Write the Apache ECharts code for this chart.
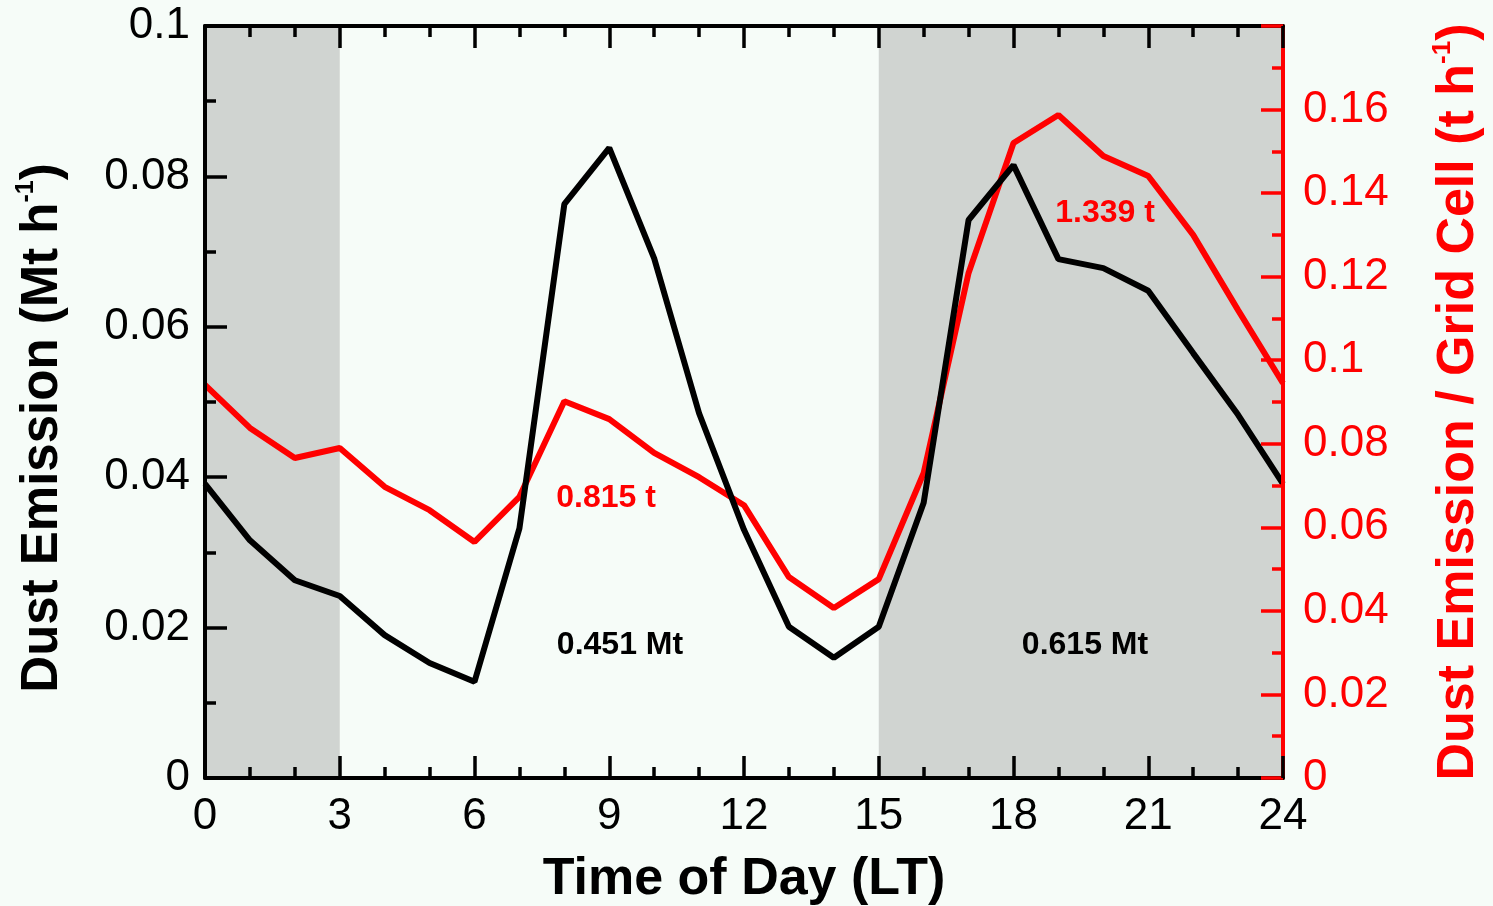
<!DOCTYPE html>
<html>
<head>
<meta charset="utf-8">
<script src="https://cdn.jsdelivr.net/npm/echarts@6/dist/echarts.min.js"></script>
<style>
  html, body { margin: 0; padding: 0; background: #f6fcf8; }
  #chart { width: 1493px; height: 906px; }
</style>
</head>
<body>
<div id="chart"></div>
<script>
// hours of day (LT)
const hours = [0, 1, 2, 3, 4, 5, 6, 7, 8, 9, 10, 11, 12, 13, 14, 15, 16, 17, 18, 19, 20, 21, 22, 23, 24]

// total dust emission (Mt h-1), left axis
const totalEmission = [0.0391, 0.0316, 0.0263, 0.0242, 0.0190, 0.0153, 0.0128, 0.0332, 0.0763, 0.0838,
  0.0691, 0.0485, 0.0330, 0.0201, 0.0160, 0.0201, 0.0366, 0.0742, 0.0815, 0.0690,
  0.0678, 0.0648, 0.0565, 0.0483, 0.0391]

// dust emission per grid cell (t h-1), right axis
const cellEmission = [0.0941, 0.0838, 0.0766, 0.0790, 0.0697, 0.0641, 0.0565, 0.0673, 0.0902, 0.0859,
  0.0778, 0.0720, 0.0653, 0.0481, 0.0407, 0.0476, 0.0730, 0.1209, 0.1520, 0.1587,
  0.1489, 0.1441, 0.1300, 0.1120, 0.0945]

// shaded periods (hours)
const shadedPeriods = [[0, 3], [15, 24]]

// annotations
const annotations = [
  { text: '0.451 Mt', color: '#000', x: 620, y: 645 },
  { text: '0.615 Mt', color: '#000', x: 1085, y: 645 },
  { text: '0.815 t', color: '#ff0000', x: 606, y: 498 },
  { text: '1.339 t', color: '#ff0000', x: 1105, y: 213 }
]

const chart = echarts.init(document.getElementById('chart'))

const font = 'Liberation Sans, Arial, Helvetica, sans-serif'
const RED = '#ff0000'

const xBase = {
  type: 'value',
  min: 0,
  max: 24,
  interval: 3,
  z: 10,
  axisLine: { show: true, onZero: false, lineStyle: { color: '#000', width: 4 } },
  axisTick: { show: true, inside: true, length: 22, lineStyle: { color: '#000', width: 3.5 } },
  minorTick: { show: true, splitNumber: 3, length: 11, lineStyle: { color: '#000', width: 3.5 } },
  splitLine: { show: false },
  minorSplitLine: { show: false }
}

const option = {
  backgroundColor: '#f6fcf8',
  animation: false,
  grid: { left: 205, right: 210, top: 26, bottom: 128, outerBoundsMode: 'none' },
  xAxis: [
    Object.assign({}, xBase, {
      position: 'bottom',
      name: 'Time of Day (LT)',
      nameLocation: 'middle',
      nameGap: 76,
      nameTextStyle: { fontFamily: font, fontSize: 52, fontWeight: 'bold', color: '#000' },
      axisLabel: { fontFamily: font, fontSize: 44, color: '#000', margin: 17 }
    }),
    Object.assign({}, xBase, {
      position: 'top',
      axisLabel: { show: false }
    })
  ],
  yAxis: [
    {
      type: 'value',
      position: 'left',
      min: 0,
      max: 0.1,
      interval: 0.02,
      z: 10,
      name: '{a|Dust Emission (Mt h}{s|-1}{a|)}',
      nameLocation: 'middle',
      nameRotate: 90,
      nameGap: 133,
      nameTextStyle: {
        padding: [0, 52, 0, 0],
        rich: {
          a: { fontFamily: font, fontSize: 51, fontWeight: 'bold', color: '#000', lineHeight: 58 },
          s: { fontFamily: font, fontSize: 25, fontWeight: 'bold', color: '#000', lineHeight: 58, verticalAlign: 'top', padding: [0, 0, 22, 0] }
        }
      },
      axisLine: { show: true, onZero: false, lineStyle: { color: '#000', width: 4 } },
      axisTick: { show: true, inside: true, length: 22, lineStyle: { color: '#000', width: 3.5 } },
      minorTick: { show: true, splitNumber: 2, length: 11, lineStyle: { color: '#000', width: 3.5 } },
      axisLabel: { fontFamily: font, fontSize: 44, color: '#000', margin: 15 },
      splitLine: { show: false }
    },
    {
      type: 'value',
      position: 'right',
      min: 0,
      max: 0.18,
      interval: 0.02,
      z: 10,
      name: '{a|Dust Emission / Grid Cell (t h}{s|-1}{a|)}',
      nameLocation: 'middle',
      nameRotate: 90,
      nameGap: 147,
      nameTextStyle: {
        rich: {
          a: { fontFamily: font, fontSize: 52, fontWeight: 'bold', color: RED, lineHeight: 58 },
          s: { fontFamily: font, fontSize: 26, fontWeight: 'bold', color: RED, lineHeight: 58, verticalAlign: 'top', padding: [0, 0, 22, 0] }
        }
      },
      axisLine: { show: true, onZero: false, lineStyle: { color: RED, width: 4 } },
      axisTick: { show: true, inside: true, length: 22, lineStyle: { color: RED, width: 3.5 } },
      minorTick: { show: true, splitNumber: 2, length: 11, lineStyle: { color: RED, width: 3.5 } },
      axisLabel: {
        fontFamily: font, fontSize: 44, color: RED, margin: 20,
        formatter: function (v) { return v > 0.17 ? '' : String(+v.toFixed(2)) }
      },
      splitLine: { show: false }
    }
  ],
  graphic: annotations.map(a => ({
    type: 'text',
    x: a.x,
    y: a.y,
    z: 20,
    style: {
      text: a.text,
      fill: a.color,
      font: 'bold 32px ' + font,
      align: 'center',
      verticalAlign: 'middle'
    }
  })),
  series: [
    {
      type: 'line',
      name: 'shade',
      xAxisIndex: 0,
      yAxisIndex: 0,
      data: [],
      z: 1,
      silent: true,
      markArea: {
        silent: true,
        itemStyle: { color: '#d0d4d1', opacity: 1 },
        data: shadedPeriods.map(p => [{ xAxis: p[0] }, { xAxis: p[1] }])
      }
    },
    {
      type: 'line',
      name: 'cell',
      xAxisIndex: 0,
      yAxisIndex: 1,
      z: 3,
      symbol: 'none',
      lineStyle: { color: RED, width: 6 },
      data: hours.map((h, i) => [h, cellEmission[i]])
    },
    {
      type: 'line',
      name: 'total',
      xAxisIndex: 0,
      yAxisIndex: 0,
      z: 4,
      symbol: 'none',
      lineStyle: { color: '#000', width: 6 },
      data: hours.map((h, i) => [h, totalEmission[i]])
    }
  ]
}

chart.setOption(option)
window.addEventListener('resize', () => chart.resize())
</script>
</body>
</html>
